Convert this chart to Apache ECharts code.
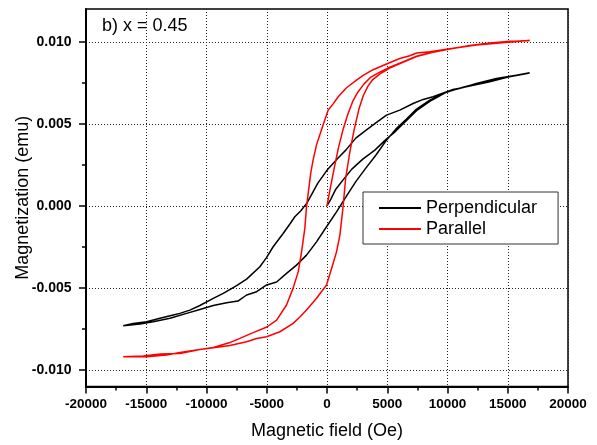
<!DOCTYPE html>
<html>
<head>
<meta charset="utf-8">
<script src="https://cdn.jsdelivr.net/npm/echarts@6/dist/echarts.min.js"></script>
<style>html,body{margin:0;padding:0;background:#fff}#c{width:597px;height:445px}</style>
</head>
<body>
<div id="c"></div>
<script>
// Tick labels
var xTicks = [-20000, -15000, -10000, -5000, 0, 5000, 10000, 15000, 20000];
var yTicks = [-0.010, -0.005, 0.000, 0.005, 0.010];
var yMinorTicks = [-0.0075, -0.0025, 0.0025, 0.0075];

// Perpendicular (black) loop: virgin, descending, ascending branches
var perpVirginH = [0, 320, 730, 1320, 2060, 2970, 3970, 4880, 5710, 6600, 7430, 8530, 9920, 11290, 12400, 14060, 15720, 16820];
var perpVirginM = [0, 0.00041, 0.00102, 0.00157, 0.00224, 0.00285, 0.00340, 0.00404, 0.00456, 0.00520, 0.00580, 0.00637, 0.00693, 0.00724, 0.00744, 0.00774, 0.00796, 0.00810];
var perpDownH = [16820, 15030, 13510, 11850, 10460, 8800, 7980, 7150, 6040, 4940, 4050, 3140, 2390, 1560, 900, 70, -760, -1670, -2170, -2670, -3080, -3640, -4470, -5020, -5570, -6670, -7500, -8610, -9440, -10550, -11380, -12210, -12760, -13860, -14970, -16080, -16910];
var perpDownM = [0.00811, 0.00786, 0.00756, 0.00730, 0.00710, 0.00665, 0.00649, 0.00624, 0.00584, 0.00553, 0.00506, 0.00456, 0.00413, 0.00340, 0.00291, 0.00224, 0.00139, 0.00017, -0.00030, -0.00066, -0.00110, -0.00168, -0.00249, -0.00315, -0.00371, -0.00446, -0.00486, -0.00533, -0.00564, -0.00607, -0.00635, -0.00655, -0.00665, -0.00685, -0.00706, -0.00716, -0.00730];
var perpUpH = [-16910, -15520, -14420, -13030, -11650, -10550, -9440, -8330, -7390, -6670, -5840, -5010, -4180, -3360, -2530, -1700, -870, -40, 790, 1560, 2390, 3220, 4050, 4880, 5710, 6600, 7430, 8530, 9920, 11290, 12400, 14060, 15720, 16820];
var perpUpM = [-0.00730, -0.00720, -0.00706, -0.00685, -0.00655, -0.00631, -0.00607, -0.00590, -0.00580, -0.00543, -0.00523, -0.00482, -0.00464, -0.00411, -0.00361, -0.00300, -0.00219, -0.00127, -0.00036, 0.00054, 0.00148, 0.00230, 0.00309, 0.00395, 0.00468, 0.00529, 0.00590, 0.00645, 0.00695, 0.00722, 0.00746, 0.00777, 0.00797, 0.00811];

// Parallel (red) loop: virgin, descending, ascending branches
var parVirginH = [0, 320, 650, 980, 1320, 1730, 2140, 2560, 3060, 3640, 4380, 5210, 6290, 7430, 8700, 10190, 11850, 13510, 15170, 16820];
var parVirginM = [0, 0.00127, 0.00249, 0.00364, 0.00462, 0.00559, 0.00638, 0.00693, 0.00742, 0.00785, 0.00815, 0.00845, 0.00877, 0.00912, 0.00937, 0.00958, 0.00976, 0.00992, 0.01002, 0.01008];
var parDownH = [16820, 15030, 12400, 9920, 8530, 7430, 6870, 6040, 4940, 3830, 3000, 2450, 1620, 930, 510, 100, -320, -870, -1150, -1350, -1560, -1700, -1840, -2110, -2390, -2810, -3360, -4180, -4990, -6130, -7230, -8060, -9440, -10820, -12210, -13310, -14970, -16910];
var parDownM = [0.01006, 0.00998, 0.00980, 0.00955, 0.00940, 0.00932, 0.00915, 0.00898, 0.00865, 0.00830, 0.00795, 0.00766, 0.00720, 0.00665, 0.00622, 0.00584, 0.00495, 0.00372, 0.00280, 0.00200, 0.00076, -0.00005, -0.00137, -0.00280, -0.00402, -0.00501, -0.00604, -0.00696, -0.00738, -0.00772, -0.00807, -0.00833, -0.00863, -0.00878, -0.00893, -0.00909, -0.00919, -0.00919];
var parUpH = [-16910, -15250, -13860, -12210, -10550, -9440, -8060, -6670, -5840, -5010, -3910, -2810, -2250, -1700, -870, -40, 380, 790, 1070, 1260, 1340, 1550, 1900, 2240, 2650, 3000, 3400, 3800, 4400, 5200, 6300, 7430, 8700, 10190, 11850, 13510, 15170, 16820];
var parUpM = [-0.00919, -0.00915, -0.00903, -0.00899, -0.00875, -0.00864, -0.00851, -0.00828, -0.00808, -0.00797, -0.00767, -0.00716, -0.00677, -0.00635, -0.00563, -0.00482, -0.00381, -0.00280, -0.00178, -0.00056, 0.00000, 0.00170, 0.00330, 0.00460, 0.00590, 0.00670, 0.00730, 0.00770, 0.00805, 0.00840, 0.00875, 0.00910, 0.00935, 0.00956, 0.00978, 0.00993, 0.01003, 0.01006];

function zip(h, m) { var out = []; for (var i = 0; i < h.length; i++) out.push([h[i], m[i]]); return out; }
var perpData = zip(perpVirginH.concat(perpDownH, perpUpH), perpVirginM.concat(perpDownM, perpUpM));
var parData = zip(parVirginH.concat(parDownH, parUpH), parVirginM.concat(parDownM, parUpM));

var FONT = '"Liberation Sans", Arial, sans-serif';
var chart = echarts.init(document.getElementById('c'), null, {renderer: 'canvas'});
chart.setOption({
  animation: false,
  backgroundColor: '#fff',
  textStyle: {fontFamily: FONT},
  grid: {left: 86, right: 29, top: 9, bottom: 58.6, show: true, containLabel: false, outerBoundsMode: 'none', borderColor: '#000', borderWidth: 1.5, backgroundColor: 'transparent'},
  legend: {
    data: ['Perpendicular', 'Parallel'],
    orient: 'vertical', left: 363, top: 192,
    icon: 'rect',
    padding: [7, 21, 6, 16], itemWidth: 42, itemHeight: 2, itemGap: 3,
    borderColor: '#333', borderWidth: 1, backgroundColor: '#fff',
    textStyle: {fontSize: 18, color: '#000', fontFamily: FONT}
  },
  graphic: [{
    type: 'text', x: 102, y: 26, z: 100,
    style: {text: 'b) x = 0.45', fontSize: 18, fontFamily: FONT, fill: '#000', verticalAlign: 'middle'}
  }],
  xAxis: {
    type: 'value', min: xTicks[0], max: xTicks[xTicks.length - 1], interval: 5000,
    axisLine: {onZero: false, lineStyle: {color: '#000', width: 2}},
    axisTick: {length: 7, lineStyle: {color: '#000', width: 1.5}},
    minorTick: {show: true, splitNumber: 2, length: 4, lineStyle: {color: '#000', width: 1.5}},
    axisLabel: {fontSize: 13.5, fontWeight: 'bold', color: '#000', margin: 11, formatter: function (v) { return String(v); }},
    splitLine: {show: true, lineStyle: {color: '#222', type: [1, 2], width: 1}},
    name: 'Magnetic field (Oe)', nameLocation: 'middle', nameGap: 36, nameMoveOverlap: false,
    nameTextStyle: {fontSize: 18, color: '#000', fontFamily: FONT}
  },
  yAxis: [{
    type: 'value', min: -0.011, max: 0.012, splitNumber: 5,
    axisLine: {onZero: false, lineStyle: {color: '#000', width: 2}},
    axisTick: {length: 7, customValues: yTicks, lineStyle: {color: '#000', width: 1.5}},
    axisLabel: {customValues: yTicks, fontSize: 14, fontWeight: 'bold', color: '#000', margin: 14.5, formatter: function (v) { return v.toFixed(3); }},
    splitLine: {show: true, lineStyle: {color: '#222', type: [1, 2], width: 1}},
    name: 'Magnetization (emu)', nameLocation: 'middle', nameGap: 54, nameMoveOverlap: false,
    nameTextStyle: {fontSize: 18, color: '#000', fontFamily: FONT}
  }, {
    type: 'value', min: -0.011, max: 0.012, position: 'left',
    axisLine: {show: false, onZero: false},
    axisTick: {show: true, length: 4, customValues: yMinorTicks, lineStyle: {color: '#000', width: 1.5}},
    axisLabel: {show: false},
    splitLine: {show: false}
  }],
  series: [{
    name: 'Perpendicular', type: 'line', data: perpData, symbol: 'none', yAxisIndex: 0,
    lineStyle: {color: '#000', width: 1.5}, itemStyle: {color: '#000'}
  }, {
    name: 'Parallel', type: 'line', data: parData, symbol: 'none', yAxisIndex: 0,
    lineStyle: {color: '#ff0000', width: 1.5}, itemStyle: {color: '#ff0000'}
  }]
});
</script>
</body>
</html>
